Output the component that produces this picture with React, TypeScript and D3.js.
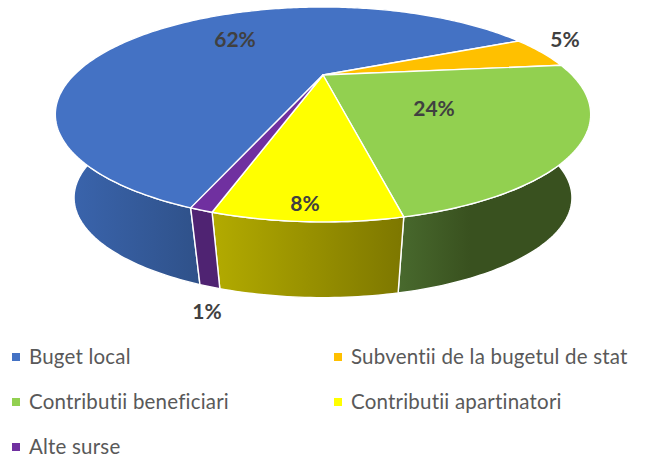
import React from "react";
import * as d3 from "d3";

const categories = ["Buget local", "Subventii de la bugetul de stat", "Contributii beneficiari", "Contributii apartinatori", "Alte surse"];
const values = [62.4, 5.2, 23.4, 8.0, 1.0];
const valueLabels = ["62%", "5%", "24%", "8%", "1%"];
const topColors = ["#4472c4", "#ffc000", "#92d050", "#ffff00", "#7030a0"];
const wallFrom = ["#3b66b0", "#c99700", "#48692d", "#b3ab00", "#4f2372"];
const wallTo = ["#2f5189", "#997300", "#39511f", "#7d7700", "#4f2372"];
const labelPos: [number, number][] = [[235, 47], [565, 47], [434, 116], [305, 211], [207, 319]];
const legendPos: [number, number][] = [[12, 353], [334, 353], [12, 398], [334, 398], [12, 443]];

const W = 648, H = 456;
const CX = 323, CY = 75, BOTTOM_CY = 161;
const RX = 249, RY = 93, P = 0.367, BOTTOM_SCALE = 0.93;

const project = (a: number, bottom: boolean): [number, number] => {
  const X = Math.sin(a), Y = -Math.cos(a);
  const d = 1 - P * Y;
  const s = bottom ? BOTTOM_SCALE : 1;
  return [CX + (s * RX * X) / d, (bottom ? BOTTOM_CY : CY) + (s * RY * Y) / d];
};

const arcs = d3
  .pie<number>()
  .sort(null)
  .startAngle((200.4 * Math.PI) / 180)
  .endAngle(((200.4 + 360) * Math.PI) / 180)(values);

const samples = (a0: number, a1: number) => d3.range(0, 1.0001, 1 / Math.max(2, Math.ceil((a1 - a0) * 60))).map((t) => a0 + (a1 - a0) * t);
const line = d3.line<[number, number]>();

export default function App() {
  return (
    <svg width={W} height={H} style={{ position: "fixed", left: 0, top: 0, display: "block", background: "#fff" }}>
      <defs>
        {arcs.map((d, i) => {
          const xs = samples(d.startAngle, d.endAngle).map((a) => project(a, false)[0]);
          // the blue wall's visible part is on the left-front of the pie
          const x0 = i === 0 ? 58 : i === 2 ? 400 : d3.min(xs)!;
          const x1 = i === 0 ? 200 : i === 2 ? 470 : d3.max(xs)!;
          return (
            <linearGradient key={i} id={`wall${i}`} gradientUnits="userSpaceOnUse" x1={x0} x2={x1} y1={0} y2={0}>
              <stop offset="0" stopColor={wallFrom[i]} />
              <stop offset="1" stopColor={wallTo[i]} />
            </linearGradient>
          );
        })}
      </defs>
      {arcs.map((d, i) => {
        const s = samples(d.startAngle, d.endAngle);
        const pts = [...s.map((a) => project(a, false)), ...s.slice().reverse().map((a) => project(a, true))];
        return <path key={i} d={line(pts) + "Z"} fill={`url(#wall${i})`} stroke="#fff" strokeWidth={1.4} strokeLinejoin="round" />;
      })}
      {arcs.map((d, i) => {
        const pts: [number, number][] = [[CX, CY], ...samples(d.startAngle, d.endAngle).map((a) => project(a, false))];
        return <path key={i} d={line(pts) + "Z"} fill={topColors[i]} stroke="#fff" strokeWidth={1.4} strokeLinejoin="round" />;
      })}
      {valueLabels.map((t, i) => (
        <text key={t} x={labelPos[i][0]} y={labelPos[i][1]} textAnchor="middle" fontFamily="Lato" fontWeight={700} fontSize={21} fill="#404040">
          {t}
        </text>
      ))}
      {categories.map((c, i) => (
        <g key={c}>
          <rect x={legendPos[i][0]} y={legendPos[i][1]} width={8} height={8} fill={topColors[i]} />
          <text x={legendPos[i][0] + 17} y={legendPos[i][1] + 11} fontFamily="Lato" fontSize={20.5} letterSpacing={0.2} fill="#595959">
            {c}
          </text>
        </g>
      ))}
    </svg>
  );
}
